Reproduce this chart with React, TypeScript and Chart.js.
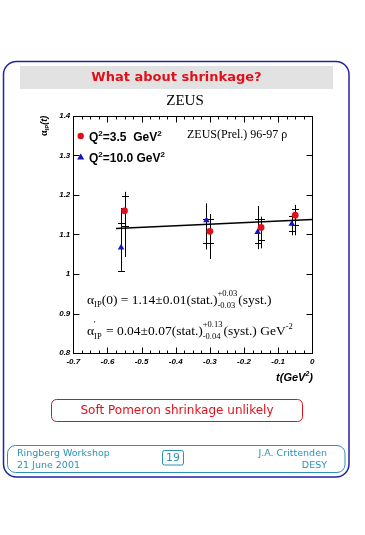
import React, { useEffect, useRef } from "react";
import { Chart, registerables } from "chart.js";

Chart.register(...registerables);

// ---- data ----
const xTickValues = [-0.7, -0.6, -0.5, -0.4, -0.3, -0.2, -0.1, 0];
const xTickLabels = ["-0.7", "-0.6", "-0.5", "-0.4", "-0.3", "-0.2", "-0.1", "0"];
const yTickValues = [0.8, 0.9, 1.0, 1.1, 1.2, 1.3, 1.4];
const yTickLabels = ["0.8", "0.9", "1", "1.1", "1.2", "1.3", "1.4"];

const redT = [-0.55, -0.30, -0.15, -0.05];
const redY = [1.160, 1.108, 1.118, 1.149];
const redStatLo = [1.122, 1.078, 1.085, 1.125];
const redStatHi = [1.198, 1.138, 1.140, 1.165];
const redTotLo = [1.043, 1.038, 1.065, 1.098];
const redTotHi = [1.208, 1.152, 1.145, 1.175];

const blueT = [-0.56, -0.31, -0.16, -0.06];
const blueY = [1.067, 1.136, 1.106, 1.127];
const blueStatLo = [1.008, 1.078, 1.078, 1.108];
const blueStatHi = [1.128, 1.140, 1.138, 1.148];
const blueTotLo = [1.008, 1.062, 1.063, 1.098];
const blueTotHi = [1.167, 1.179, 1.172, 1.150];

const fitT = [-0.575, 0];
const fitY = [1.115, 1.138];

const RED = "#e0101a";
const BLUE = "#1414c8";
const NAVY = "#2323a6";
const TEAL = "#2a93b2";

const SERIF = "'Liberation Serif', 'DejaVu Serif', serif";
const SANS = "'Liberation Sans', Arial, sans-serif";
const DSANS = "'DejaVu Sans', Verdana, sans-serif";

type Seg = { t: string; font: string; dy?: number; stackTop?: string; stackBot?: string };

function drawSegs(ctx: CanvasRenderingContext2D, segs: Seg[], x: number, y: number) {
  let cx = x;
  for (const s of segs) {
    ctx.font = s.font;
    if (s.stackTop !== undefined || s.stackBot !== undefined) {
      const top = s.stackTop || "";
      const bot = s.stackBot || "";
      ctx.fillText(top, cx, y - 8);
      ctx.fillText(bot, cx, y + 4);
      cx += Math.max(ctx.measureText(top).width, ctx.measureText(bot).width) + 1;
    } else {
      ctx.fillText(s.t, cx, y + (s.dy || 0));
      cx += ctx.measureText(s.t).width;
    }
  }
  return cx;
}

function roundRectPath(ctx: CanvasRenderingContext2D, x: number, y: number, w: number, h: number, r: number) {
  ctx.beginPath();
  ctx.moveTo(x + r, y);
  ctx.lineTo(x + w - r, y);
  ctx.arcTo(x + w, y, x + w, y + r, r);
  ctx.lineTo(x + w, y + h - r);
  ctx.arcTo(x + w, y + h, x + w - r, y + h, r);
  ctx.lineTo(x + r, y + h);
  ctx.arcTo(x, y + h, x, y + h - r, r);
  ctx.lineTo(x, y + r);
  ctx.arcTo(x, y, x + r, y, r);
  ctx.closePath();
}

const pagePlugin = {
  id: "page",
  beforeDraw(chart: any) {
    const ctx: CanvasRenderingContext2D = chart.ctx;
    ctx.save();
    ctx.fillStyle = "#fff";
    ctx.fillRect(0, 0, chart.width, chart.height);
    // outer frame
    ctx.strokeStyle = NAVY;
    ctx.lineWidth = 1.5;
    roundRectPath(ctx, 3.5, 61.5, 345.5, 415.5, 13);
    ctx.stroke();
    // title bar
    ctx.fillStyle = "#e2e2e2";
    ctx.fillRect(20, 66, 313, 23);
    ctx.fillStyle = RED;
    ctx.font = `bold 13px ${DSANS}`;
    ctx.textAlign = "center";
    ctx.textBaseline = "middle";
    ctx.fillText("What about shrinkage?", 176.5, 78);
    // ZEUS
    ctx.fillStyle = "#000";
    ctx.font = `15px ${SERIF}`;
    ctx.fillText("ZEUS", 185, 101);
    // red conclusion box
    ctx.strokeStyle = RED;
    ctx.lineWidth = 1;
    roundRectPath(ctx, 51.5, 399.5, 251, 22, 5);
    ctx.stroke();
    ctx.fillStyle = RED;
    ctx.font = `12px ${DSANS}`;
    ctx.fillText("Soft Pomeron shrinkage unlikely", 177, 411);
    // footer
    ctx.strokeStyle = TEAL;
    roundRectPath(ctx, 7.5, 445.5, 337.5, 27, 8);
    ctx.stroke();
    roundRectPath(ctx, 162.5, 450.5, 21, 14.5, 2);
    ctx.stroke();
    ctx.fillStyle = TEAL;
    ctx.font = `11px ${DSANS}`;
    ctx.fillText("19", 173, 458.5);
    ctx.font = `9.5px ${DSANS}`;
    ctx.textAlign = "left";
    ctx.fillText("Ringberg Workshop", 17, 453.5);
    ctx.fillText("21 June 2001", 17, 465.5);
    ctx.textAlign = "right";
    ctx.fillText("J.A. Crittenden", 327, 453.5);
    ctx.fillText("DESY", 327, 465.5);
    ctx.restore();
  },
  beforeDatasetsDraw(chart: any) {
    const ctx: CanvasRenderingContext2D = chart.ctx;
    const xs = chart.scales.x;
    const ys = chart.scales.y;
    ctx.save();
    ctx.strokeStyle = "#000";
    ctx.lineWidth = 1;
    const bars = (T: number[], lo: number[], hi: number[], sLo: number[], sHi: number[]) => {
      T.forEach((t, i) => {
        const px = Math.round(xs.getPixelForValue(t)) + 0.5;
        const yl = ys.getPixelForValue(lo[i]);
        const yh = ys.getPixelForValue(hi[i]);
        ctx.beginPath();
        ctx.moveTo(px, yl);
        ctx.lineTo(px, yh);
        for (const v of [sLo[i], sHi[i]]) {
          const py = Math.round(ys.getPixelForValue(v)) + 0.5;
          ctx.moveTo(px - 3.5, py);
          ctx.lineTo(px + 3.5, py);
        }
        ctx.stroke();
      });
    };
    bars(blueT, blueTotLo, blueTotHi, blueStatLo, blueStatHi);
    bars(redT, redTotLo, redTotHi, redStatLo, redStatHi);
    ctx.restore();
  },
  afterDraw(chart: any) {
    const ctx: CanvasRenderingContext2D = chart.ctx;
    const xs = chart.scales.x;
    const ys = chart.scales.y;
    const a = chart.chartArea;
    ctx.save();
    ctx.strokeStyle = "#000";
    ctx.lineWidth = 1;
    const L = Math.round(a.left) + 0.5;
    const R = Math.round(a.right) + 0.5;
    const T = Math.round(a.top) + 0.5;
    const B = Math.round(a.bottom) + 0.5;
    ctx.strokeRect(L, T, R - L, B - T);
    ctx.beginPath();
    for (let i = 0; i <= 28; i++) {
      const v = -0.7 + i * 0.025;
      const px = Math.round(xs.getPixelForValue(v)) + 0.5;
      const len = i % 4 === 0 ? 6 : 3;
      ctx.moveTo(px, B);
      ctx.lineTo(px, B - len);
      ctx.moveTo(px, T);
      ctx.lineTo(px, T + len);
    }
    for (const v of yTickValues) {
      const py = Math.round(ys.getPixelForValue(v)) + 0.5;
      ctx.moveTo(L, py);
      ctx.lineTo(L + 6, py);
      ctx.moveTo(R, py);
      ctx.lineTo(R - 6, py);
    }
    ctx.stroke();

    // legend
    const ds0 = chart.data.datasets[0];
    const ds1 = chart.data.datasets[1];
    ctx.fillStyle = ds0.backgroundColor;
    ctx.beginPath();
    ctx.arc(80.7, 136, 3.2, 0, Math.PI * 2);
    ctx.fill();
    ctx.fillStyle = ds1.backgroundColor;
    ctx.beginPath();
    ctx.moveTo(80.7, 153.5);
    ctx.lineTo(84.3, 159.5);
    ctx.lineTo(77.1, 159.5);
    ctx.closePath();
    ctx.fill();

    ctx.fillStyle = "#000";
    ctx.textAlign = "left";
    ctx.textBaseline = "alphabetic";
    const lf = `bold 12px ${SANS}`;
    const ls = `bold 8px ${SANS}`;
    drawSegs(ctx, [
      { t: "Q", font: lf }, { t: "2", font: ls, dy: -5 }, { t: "=3.5  GeV", font: lf }, { t: "2", font: ls, dy: -5 },
    ], 89, 140.5);
    drawSegs(ctx, [
      { t: "Q", font: lf }, { t: "2", font: ls, dy: -5 }, { t: "=10.0 GeV", font: lf }, { t: "2", font: ls, dy: -5 },
    ], 89, 161.5);

    // experiment label
    ctx.font = `12px ${SERIF}`;
    ctx.fillText("ZEUS(Prel.) 96-97 ρ", 187, 137.5);

    // fit results
    const ff = `13.5px ${SERIF}`;
    const fs = `8.5px ${SERIF}`;
    drawSegs(ctx, [
      { t: "α", font: ff }, { t: "IP", font: fs, dy: 3 }, { t: "(0) = 1.14±0.01(stat.)", font: ff },
      { t: "", font: fs, stackTop: "+0.03", stackBot: "-0.03" }, { t: "(syst.)", font: ff },
    ], 87, 304);
    drawSegs(ctx, [
      { t: "α", font: ff }, { t: "", font: fs, stackTop: "'", stackBot: "IP" }, { t: " = 0.04±0.07(stat.)", font: ff },
      { t: "", font: fs, stackTop: "+0.13", stackBot: "-0.04" }, { t: "(syst.) GeV", font: ff }, { t: "-2", font: fs, dy: -6 },
    ], 87, 335);

    // axis titles
    const tw = (s: string, f: string) => { ctx.font = f; return ctx.measureText(s).width; };
    const xf = `bold italic 11px ${SANS}`;
    const xfs = `bold italic 7px ${SANS}`;
    const totalW = tw("t(GeV", xf) + tw("2", xfs) + tw(")", xf);
    ctx.textAlign = "left";
    ctx.textBaseline = "alphabetic";
    drawSegs(ctx, [{ t: "t(GeV", font: xf }, { t: "2", font: xfs, dy: -5 }, { t: ")", font: xf }], 313 - totalW, 381);

    ctx.save();
    ctx.translate(47, 136);
    ctx.rotate(-Math.PI / 2);
    drawSegs(ctx, [
      { t: "α", font: `bold 10px ${SERIF}` }, { t: "IP", font: `bold 6px ${SANS}`, dy: 2 }, { t: "(t)", font: `bold italic 9px ${SANS}` },
    ], 0, 0);
    ctx.restore();
    ctx.restore();
  },
};

export default function App() {
  const ref = useRef<HTMLCanvasElement>(null);
  useEffect(() => {
    const canvas = ref.current!;
    const tickFont = { family: SANS, size: 8, style: "italic" as const, weight: "bold" as const };
    const chart = new Chart(canvas, {
      type: "scatter",
      data: {
        datasets: [
          {
            label: "Q²=3.5 GeV²",
            data: redT.map((t, i) => ({ x: t, y: redY[i] })),
            pointStyle: "circle",
            pointRadius: 3.4,
            backgroundColor: RED,
            borderColor: RED,
            borderWidth: 0,
          },
          {
            label: "Q²=10.0 GeV²",
            data: blueT.map((t, i) => ({ x: t, y: blueY[i] })),
            pointStyle: "triangle",
            pointRadius: 3.8,
            backgroundColor: BLUE,
            borderColor: BLUE,
            borderWidth: 0,
          },
          {
            type: "line" as const,
            label: "fit",
            data: fitT.map((t, i) => ({ x: t, y: fitY[i] })),
            borderColor: "#000",
            borderWidth: 1.5,
            pointRadius: 0,
            showLine: true,
            fill: false,
          } as any,
        ],
      },
      options: {
        animation: false,
        responsive: true,
        maintainAspectRatio: false,
        layout: { padding: { left: 0, top: 116, right: 52.7, bottom: 162 } },
        plugins: { legend: { display: false }, tooltip: { enabled: false } },
        scales: {
          x: {
            type: "linear",
            min: -0.7,
            max: 0,
            afterBuildTicks: (s: any) => {
              s.ticks = xTickValues.map((v) => ({ value: v }));
            },
            afterFit: (s: any) => {
              s.height = 20;
            },
            grid: { display: false, drawTicks: false },
            border: { display: false },
            ticks: {
              padding: 4,
              maxRotation: 0,
              minRotation: 0,
              autoSkip: false,
              font: tickFont,
              color: "#000",
              callback: (_v: any, i: number) => xTickLabels[i],
            },
          },
          y: {
            type: "linear",
            min: 0.8,
            max: 1.4,
            afterBuildTicks: (s: any) => {
              s.ticks = yTickValues.map((v) => ({ value: v }));
            },
            afterFit: (s: any) => {
              s.width = 73.3;
            },
            grid: { display: false, drawTicks: false },
            border: { display: false },
            ticks: {
              padding: 3,
              autoSkip: false,
              font: tickFont,
              color: "#000",
              callback: (_v: any, i: number) => yTickLabels[i],
            },
          },
        },
      },
      plugins: [pagePlugin],
    } as any);
    return () => chart.destroy();
  }, []);
  return (
    <div style={{ position: "fixed", left: 0, top: 0, width: 365, height: 535 }}>
      <canvas ref={ref} />
    </div>
  );
}
